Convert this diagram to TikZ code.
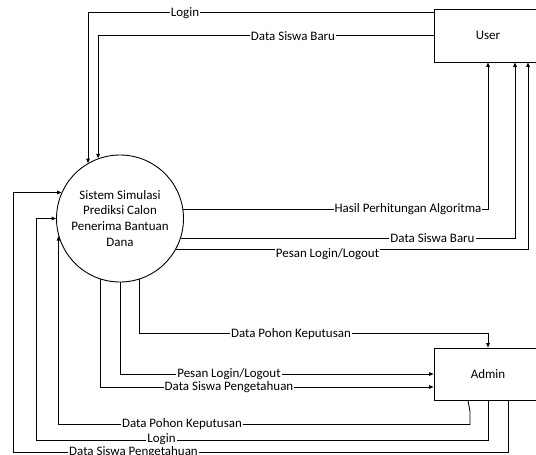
\documentclass[tikz,border=0pt]{standalone}
\usepackage{fontspec}
\setmainfont{Carlito}
\usetikzlibrary{arrows.meta}
\begin{document}
\begin{tikzpicture}[x=1bp,y=-1bp,
  flow/.style={draw=black, line width=0.9bp, -{Triangle[length=4.5bp,width=3.6bp]}},
  lbl/.style={fill=white, inner sep=1bp, font=\fontsize{13}{15}\selectfont},
  ent/.style={draw, line width=0.9bp, minimum width=108bp, minimum height=53bp, inner sep=0pt, font=\fontsize{13}{15}\selectfont},
  proc/.style={circle, draw, line width=0.9bp, minimum size=127bp, inner sep=0pt, align=center, font=\fontsize{13}{16}\selectfont}]
\useasboundingbox (0,0) rectangle (536,455);
\node[ent] (user) at (488,35.5) {User};
\node[ent, minimum height=52bp] (admin) at (488,374) {Admin};
\node[proc] (sys) at (120,218.5) {Sistem Simulasi\\Prediksi Calon\\Penerima Bantuan\\Dana};
\coordinate (lb) at (36,440);
\coordinate (db) at (13,452.5);
% user -> sys
\draw[flow] ([yshift=-4bp]user.north west) -| (sys.120.3);
\draw[flow] (user.west) -| (sys.110.3);
% sys -> user
\draw[flow] (sys.8.6) -| (user.south);
\draw[flow] (sys.-18.4) -| ([xshift=27bp]user.south);
\draw[flow] (sys.-29.7) -| ([xshift=40bp]user.south);
% sys -> admin
\draw[flow] (sys.-72.6) |- ([yshift=14bp]admin.north) -- (admin.north);
\draw[flow] (sys.-90.9) |- (admin.west);
\draw[flow] (sys.-108.4) |- ([yshift=-13bp]admin.west);
% admin -> sys
\draw[flow] ([xshift=-20bp]admin.south) -- ++(2,11) -- ++(0,13) -| (sys.196.1);
\draw[flow] (admin.south) |- (lb) |- (sys.west);
\draw[flow] ([xshift=20bp]admin.south) |- (db) |- (sys.156.3);
% labels
\node[lbl] (l1) at (185,13) {Login};
\node[lbl] (l2) at (293,36) {Data Siswa Baru};
\node[lbl] (l3) at (408,209) {Hasil Perhitungan Algoritma};
\node[lbl] (l4) at (432.5,238.5) {Data Siswa Baru};
\node[lbl] (l5) at (327.5,254) {Pesan Login/Logout};
\node[lbl] (l6) at (291,334) {Data Pohon Keputusan};
\node[lbl] (l7) at (229,374) {Pesan Login/Logout};
\node[lbl] (l8) at (229,387) {Data Siswa Pengetahuan};
\node[lbl] (l9) at (182,424) {Data Pohon Keputusan};
\node[lbl, inner ysep=0pt] (l10) at (161.5,439.5) {Login};
\node[lbl, inner ysep=0pt, anchor=base] (l11) at (133.5,455) {Data Siswa Pengetahuan};
\end{tikzpicture}
\end{document}
